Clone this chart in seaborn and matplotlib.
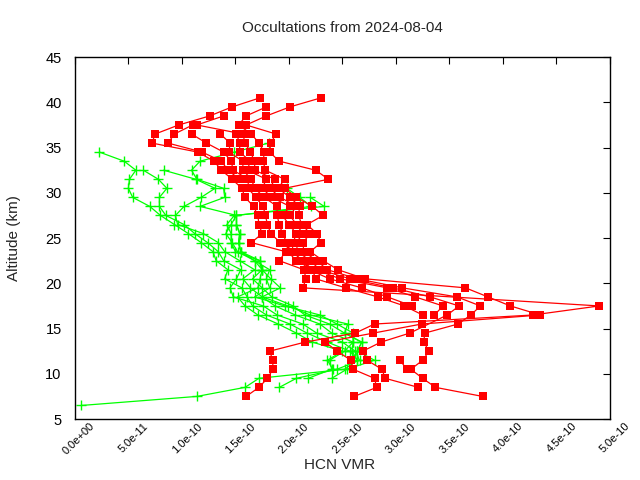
import numpy as np
import pandas as pd
import matplotlib
matplotlib.use("Agg")
import matplotlib.pyplot as plt
import matplotlib.transforms as mtransforms
import seaborn as sns

# ---------------- data (VMR in units of 1e-10, altitude in km) ----------------
# each profile: (start altitude, values at 1 km steps; None = missing level)
red_A = (7.5, [1.60, 1.72, 1.80, 1.85, 1.85, 1.82, 2.15, 2.62, 2.80, 4.28, 4.90, None,
               2.13, 2.16, 2.14, 1.91, 1.97, 1.65, 1.75, 1.72, 1.71, 1.67, 1.59, 1.56,
               1.47, 1.37, 1.30, 1.15, 0.72, 0.75, 0.97, 1.26, 1.47, 1.73])
red_B = (7.5, [2.61, 2.82, 2.80, 2.60, 2.58, 2.45, 2.34, 2.79, 3.24, 4.35, 4.07, 3.86,
               3.65, 2.71, 2.46, 2.32, 2.20, 2.30, 2.26, 2.17, 2.32, 2.22, 2.07, 1.96,
               2.37, 2.25, 1.91, 1.82, 1.83, 1.88, 1.60, 1.79, 2.01, 2.30])
red_C = (7.5, [3.81, 3.37, 3.25, 3.14, 3.25, 3.31, 3.26, 3.27, 3.58, 3.70, 3.79, 3.57,
               3.06, 2.64, 2.36, 2.26, 2.14, 2.13, 2.20, 2.12, 2.09, 2.10, 2.01, 1.90,
               1.96, 1.78, 1.76, 1.77, 1.72, 1.65, 1.53, 1.60, 1.79])
red_D = (8.5, [3.21, 2.90, 2.87, 2.73, 2.69, 2.86, 3.13, None, 3.48, 3.59, 3.32, 2.97,
               2.57, 2.29, 2.20, 2.08, 2.07, 2.13, 2.07, 2.01, 2.07, 1.92, 1.82, 1.87,
               1.68, 1.68, 1.64, 1.59, 1.57, 1.14, 1.39])
red_E = (10.5, [3.10, 3.04])
red_F = (16.5, [3.25, 3.08, 2.83, 2.53, 2.25, 2.22, 2.13, 2.03, 2.04, 2.07, 2.00, 1.94,
                2.01, 1.84, 1.75, 1.79, 1.61, 1.64, 1.54, 1.54, 1.51])
red_G = (16.5, [3.36, 3.44, 3.18, 2.92, 2.48, 2.25, 2.07, 1.99, 1.98, 1.94, 1.91, 1.89,
                1.89, 1.77, 1.68, 1.65, 1.57, 1.57, 1.44, 1.45, 1.36])
red_H = (17.5, [3.15, 2.92, 2.68, 2.38, 2.19, 2.10, 2.06, 1.92, 1.83, 1.80, 1.78, 1.76,
                1.69, 1.62, 1.62, 1.48, 1.46, 1.39, 1.23, 1.09])
red_I = (31.5, [1.54, 1.43, 1.37, 1.19, 0.87, 0.93, 1.10])

green_1 = (6.5, [0.06, 1.14, 1.59, 1.72, 2.52, 2.64, 2.57, 2.36, 2.17, 2.01, 1.79, 1.66,
                 1.61, 1.56, 1.40, 1.43, 1.32, 1.29, 1.18, 1.06, 0.93, 0.80, 0.70, 0.54,
                 0.50, 0.51, 0.57, 0.46, 0.23])
green_2 = (8.5, [1.91, 2.07, 2.45, 2.66, 2.62, 2.50, 2.26, 2.13, 1.89, 1.76, 1.48, 1.45,
                 1.51, 1.55, 1.39, 1.34, 1.24, 1.12, 1.02, 0.85, 0.79, 0.79, 0.86, 0.78,
                 0.64])
green_3 = (9.5, [2.18, 2.40, 2.38, 2.52, 2.60, 2.40, 2.29, 2.06, 1.87, 1.75, 1.64, 1.57,
                 1.68, 1.54, 1.40, 1.34, 1.20, 0.96, 0.94, 1.02, 1.18, 1.31, 1.13, 0.83])
green_4 = (9.5, [2.40, 2.54, 2.80, 2.64, 2.68, 2.52, 2.38, 2.15, 2.04, 1.84, 1.75, 1.66,
                 1.75, 1.68, 1.52, 1.47, 1.41, 1.46, 1.51, 1.17, 1.40, 1.39, 1.14, 1.09,
                 1.17, 1.49, 1.81])
green_5 = (10.5, [2.41, 2.36, 2.50, 2.22, 2.07, 1.90, 1.71, 1.59, 1.52, 1.71, 1.73, 1.75,
                  1.73, 1.55, 1.53, 1.54, 1.51])
green_6 = (11.5, [2.64, 2.59, 2.60, 2.60, 2.45, 2.29, 1.96, 1.68, 1.82, 1.79, 1.82, 1.68,
                  1.55, 1.53, 1.54, 1.51, 1.51, 2.21, 2.10, 1.98])
green_7 = (12.5, [2.64, 2.68, 2.52, 2.55, 2.20, 1.99, 1.75, 1.92, 1.83, 1.75, 1.73, 1.50,
                  1.46, 1.46, 1.42, 1.49, 2.33, 2.20])

red_profiles = [red_A, red_B, red_C, red_D, red_E, red_F, red_G, red_H, red_I]
green_profiles = [green_1, green_2, green_3, green_4, green_5, green_6, green_7]

x_ticks = [0.0, 0.5e-10, 1.0e-10, 1.5e-10, 2.0e-10, 2.5e-10, 3.0e-10, 3.5e-10,
           4.0e-10, 4.5e-10, 5.0e-10]
y_ticks = [5, 10, 15, 20, 25, 30, 35, 40, 45]
SCALE = 1e-10


def to_frame(profiles):
    rows = []
    for pid, (start, vals) in enumerate(profiles):
        for i, v in enumerate(vals):
            if v is None:
                continue
            rows.append({"profile": pid, "alt": start + i, "vmr": v * SCALE})
    return pd.DataFrame(rows)


red_df = to_frame(red_profiles)
green_df = to_frame(green_profiles)

# ---------------- plot ----------------
sns.set_style("white")
plt.rcParams["font.family"] = ["Liberation Sans", "DejaVu Sans"]

fig, ax = plt.subplots(figsize=(6.4, 4.8), dpi=100)
fig.subplots_adjust(left=0.117, right=0.953, top=0.881, bottom=0.127)

sns.lineplot(data=green_df, x="vmr", y="alt", units="profile", estimator=None,
             sort=False, color="#00ff00", linewidth=0.9, marker="+",
             markersize=6.5, markeredgewidth=1.0, markeredgecolor="#00ff00",
             legend=False, ax=ax, zorder=2)
sns.lineplot(data=red_df, x="vmr", y="alt", units="profile", estimator=None,
             sort=False, color="#ff0000", linewidth=0.9, marker="s",
             markersize=6, markeredgewidth=0, markerfacecolor="#ff0000",
             legend=False, ax=ax, zorder=3)

ax.set_xlim(0, 5e-10)
ax.set_ylim(5, 45)
ax.set_xticks(x_ticks)
ax.set_xticklabels(["%.1e" % t for t in x_ticks], rotation=45, ha="right",
                   rotation_mode="anchor", fontsize=8)
ax.set_yticks(y_ticks)
ax.set_yticklabels([str(t) for t in y_ticks], fontsize=10.5)
ax.tick_params(direction="in", top=True, right=True, length=5, width=0.8,
               colors="black")
ax.tick_params(axis="y", pad=9.5)
ax.tick_params(axis="x", pad=3)
offset = mtransforms.ScaledTranslation(15 / 100, 2 / 100, fig.dpi_scale_trans)
for lab in ax.get_xticklabels():
    lab.set_transform(lab.get_transform() + offset)
for s in ax.spines.values():
    s.set_color("black")
    s.set_linewidth(1.0)

ax.set_xlabel("")
ax.set_ylabel("")
ax.set_title("Occultations from 2024-08-04", fontsize=11, pad=18)
fig.text(0.531, 0.032, "HCN VMR", ha="center", va="center", fontsize=11)
fig.text(0.022, 0.504, "Altitude (km)", ha="center", va="center",
         rotation=90, fontsize=11)

fig.savefig("out.png", dpi=100)
